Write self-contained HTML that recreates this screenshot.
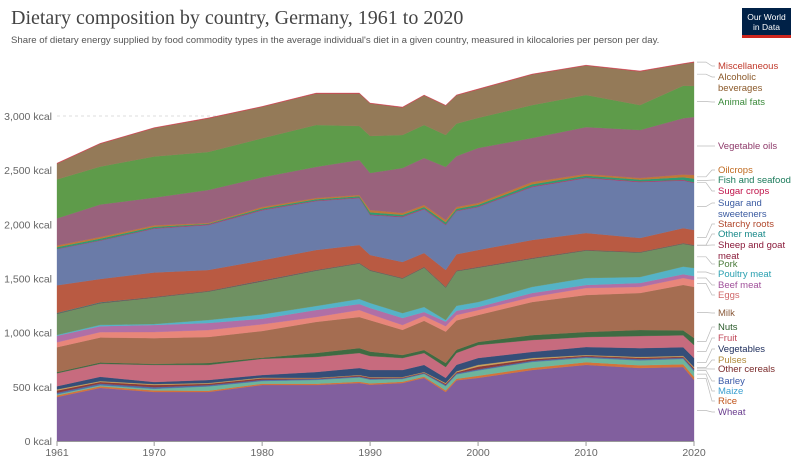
<!DOCTYPE html>
<html><head><meta charset="utf-8">
<style>
body{margin:0;background:#fff;font-family:"Liberation Sans",sans-serif;}
#wrap{position:relative;width:800px;height:466px;overflow:hidden;}
h1{position:absolute;left:11px;top:7px;margin:0;font-family:"Liberation Serif",serif;font-weight:normal;font-size:20px;color:#444;}
.sub{position:absolute;left:11px;top:35px;font-size:9.6px;color:#555;}
.logo{position:absolute;left:742px;top:8px;width:49px;height:30px;background:#002147;color:#fff;font-size:8.5px;line-height:10px;text-align:center;box-sizing:border-box;padding-top:4px;}
.logo:after{content:"";position:absolute;left:0;bottom:0;width:100%;height:3px;background:#ce261e;}
</style></head><body>
<div id="wrap">
<h1>Dietary composition by country, Germany, 1961 to 2020</h1>
<div class="sub">Share of dietary energy supplied by food commodity types in the average individual's diet in a given country, measured in kilocalories per person per day.</div>
<div class="logo">Our World<br>in Data</div>
<svg id="chart" width="800" height="466" style="position:absolute;left:0;top:0"></svg>
</div>
<script>
const years=[1961,1965,1970,1975,1980,1985,1989,1990,1993,1995,1997,1998,2000,2005,2010,2015,2019,2020];
const names=["Wheat","Rice","Maize","Barley","Other cereals","Pulses","Vegetables","Fruit","Nuts","Milk","Eggs","Beef meat","Poultry meat","Pork","Sheep and goat meat","Other meat","Starchy roots","Sugar and sweeteners","Sugar crops","Fish and seafood","Oilcrops","Vegetable oils","Animal fats","Alcoholic beverages","Miscellaneous"];
const wheat=[406,490,452,452,517,517,535,520,535,582,452,560,582,655,702,674,683,563];
const rice=[15,15,15,12,12,12,12,12,12,12,15,15,20,20,25,25,25,30];
const maize=[10,10,15,40,25,35,40,35,25,25,40,40,50,55,40,45,50,50];
const barley=[15,15,15,12,10,8,8,8,8,8,10,10,10,10,10,12,10,15];
const otherCereals=[20,15,20,12,15,6,10,10,6,5,10,10,25,15,10,12,10,15];
const pulses=[10,8,8,7,6,4,4,5,5,5,8,8,15,11,7,8,8,10];
const vegetables=[30,40,20,28,24,55,65,65,64,65,47,60,64,56,74,82,80,83];
const fruit=[120,120,157,139,150,139,138,130,111,110,101,110,120,110,92,111,110,120];
const nuts=[10,12,10,18,10,36,46,40,28,28,37,30,28,46,46,56,45,65];
const milk=[230,230,238,240,246,287,287,290,232,270,290,270,249,305,342,341,420,471];
const eggs=[45,50,56,65,62,46,64,57,45,45,50,50,45,46,64,56,64,64];
const beef=[60,55,65,64,52,64,56,56,64,36,42,40,29,37,28,36,35,37];
const poultry=[8,12,9,28,40,37,46,46,46,46,15,45,46,56,65,56,70,74];
const pork=[195,200,245,263,305,327,327,299,319,364,300,320,318,262,253,226,210,207];
const sheep=[3,3,3,3,5,3,3,3,3,3,3,3,3,3,3,3,3,3];
const otherMeat=[5,5,2,2,3,2,2,2,2,2,2,2,2,2,2,2,2,2];
const starchy=[255,215,225,193,186,185,166,139,147,129,156,150,157,166,157,129,140,139];
const sugar=[335,355,406,416,462,452,434,369,416,405,416,400,397,490,508,517,440,434];
const sugarCrops=[3,3,4,5,5,5,5,5,5,5,5,5,5,5,5,5,5,5];
const fish=[15,15,12,7,12,12,12,20,15,15,20,15,15,20,17,17,25,35];
const oilcrops=[15,15,13,6,13,11,11,21,17,18,21,17,17,21,15,15,25,33];
const vegOils=[250,300,257,305,274,287,323,342,415,434,490,470,508,406,433,443,520,536];
const animalFats=[360,350,379,351,360,387,314,341,305,305,295,300,277,304,296,230,300,286];
const alcohol=[145,210,262,309,290,290,299,300,253,272,270,260,263,282,271,310,200,218];
const misc=[5,5,5,5,5,5,5,5,5,5,5,5,5,5,5,5,5,5];
const series=[wheat,rice,maize,barley,otherCereals,pulses,vegetables,fruit,nuts,milk,eggs,beef,poultry,pork,sheep,otherMeat,starchy,sugar,sugarCrops,fish,oilcrops,vegOils,animalFats,alcohol,misc];
const yTicks=[0,500,1000,1500,2000,2500,3000];
const yTickLabels=["0 kcal","500 kcal","1,000 kcal","1,500 kcal","2,000 kcal","2,500 kcal","3,000 kcal"];
const xTicks=[1961,1970,1980,1990,2000,2010,2020];
const fills=["#815f9e","#d4733a","#6db59d","#4f6ea8","#8b3b3b","#c9a35b","#344e78","#c76b7e","#3f6b42","#a56d51","#e8867a","#b06fa6","#55b3c7","#6f9162","#8a2a4a","#2d8a7a","#b95a42","#6a7ba8","#c7285e","#2f9a72","#c07838","#99627c","#5e9b4a","#947a58","#c9424e"];
const labelColors=["#6a3d8f","#c0541a","#3a9fd0","#3a5aa8","#7a2a2a","#b08a3a","#1a2a5a","#c0485a","#2a5a2a","#8a5a3a","#d0686a","#a0509a","#2aa0b0","#4a7a3a","#8a1a3a","#1a8a8a","#b0462a","#3a5aa0","#c0134a","#1a7a5a","#c06a1f","#8e3a6a","#3a8a3a","#8b5a2b","#c0392b"];
const labelY=[415,404,394,384,372,363,352,341,330,316,298,288,277,267,248,237,227,206,194,183,173,149,105,80,69];
const labelLines=[[],[],[],[],[],[],[],[],[],[],[],[],[],[],["Sheep and goat","meat"],[],[],["Sugar and","sweeteners"],[],[],[],[],[],["Alcoholic","beverages"],[]];

const X0=57,X1=694,Y0=441,PX=325/3000;
const xs=y=>X0+(y-1961)*(X1-X0)/(2020-1961);
const ys=v=>Y0-v*PX;
const svg=document.getElementById('chart');
const NS="http://www.w3.org/2000/svg";
function mk(t,a){const e=document.createElementNS(NS,t);for(const k in a)e.setAttribute(k,a[k]);svg.appendChild(e);return e;}

yTicks.forEach((v,i)=>{
  if(v>0){const g=mk('line',{x1:X0,x2:X1,y1:ys(v),y2:ys(v),stroke:'#ddd','stroke-dasharray':'3,3'});
  
  }
  const t=mk('text',{x:52,y:ys(v)+4,'text-anchor':'end','font-size':'10.5',fill:'#666'});
  t.textContent=yTickLabels[i];
  
  
});
const cum=years.map(()=>0);
series.forEach((s,si)=>{
  const lower=cum.slice();
  s.forEach((v,i)=>cum[i]+=v);
  let d="M"+years.map((y,i)=>xs(y).toFixed(1)+","+ys(cum[i]).toFixed(1)).join("L");
  for(let i=years.length-1;i>=0;i--)d+="L"+xs(years[i]).toFixed(1)+","+ys(lower[i]).toFixed(1);
  const p=mk('path',{d:d+"Z",fill:fills[si],stroke:fills[si],'stroke-width':'0.3'});
  
  
  const endY=ys((lower[years.length-1]+cum[years.length-1])/2);
  const ln=mk('path',{d:`M697,${endY.toFixed(1)}L706,${endY.toFixed(1)}L712,${labelY[si]-3}L715,${labelY[si]-3}`,stroke:'#bbb',fill:'none','stroke-width':'0.7'});
  
  
  const t=mk('text',{x:718,y:labelY[si],'font-size':'9.5',fill:labelColors[si]});
  
  
  const lines=labelLines[si].length?labelLines[si]:[names[si]];
  lines.forEach((l,k)=>{const ts=document.createElementNS(NS,'tspan');ts.setAttribute('x',718);ts.setAttribute('dy',k?11:0);ts.textContent=l;t.appendChild(ts);});
});
const ax=mk('line',{x1:X0,x2:X1,y1:Y0+0.5,y2:Y0+0.5,stroke:'#999'});


xTicks.forEach(y=>{
  const tk=mk('line',{x1:xs(y),x2:xs(y),y1:Y0,y2:Y0+5,stroke:'#999'});
  
  
  const t=mk('text',{x:xs(y),y:456,'text-anchor':'middle','font-size':'10.5',fill:'#666'});
  t.textContent=y;
  
  
});
</script>
</body></html>
